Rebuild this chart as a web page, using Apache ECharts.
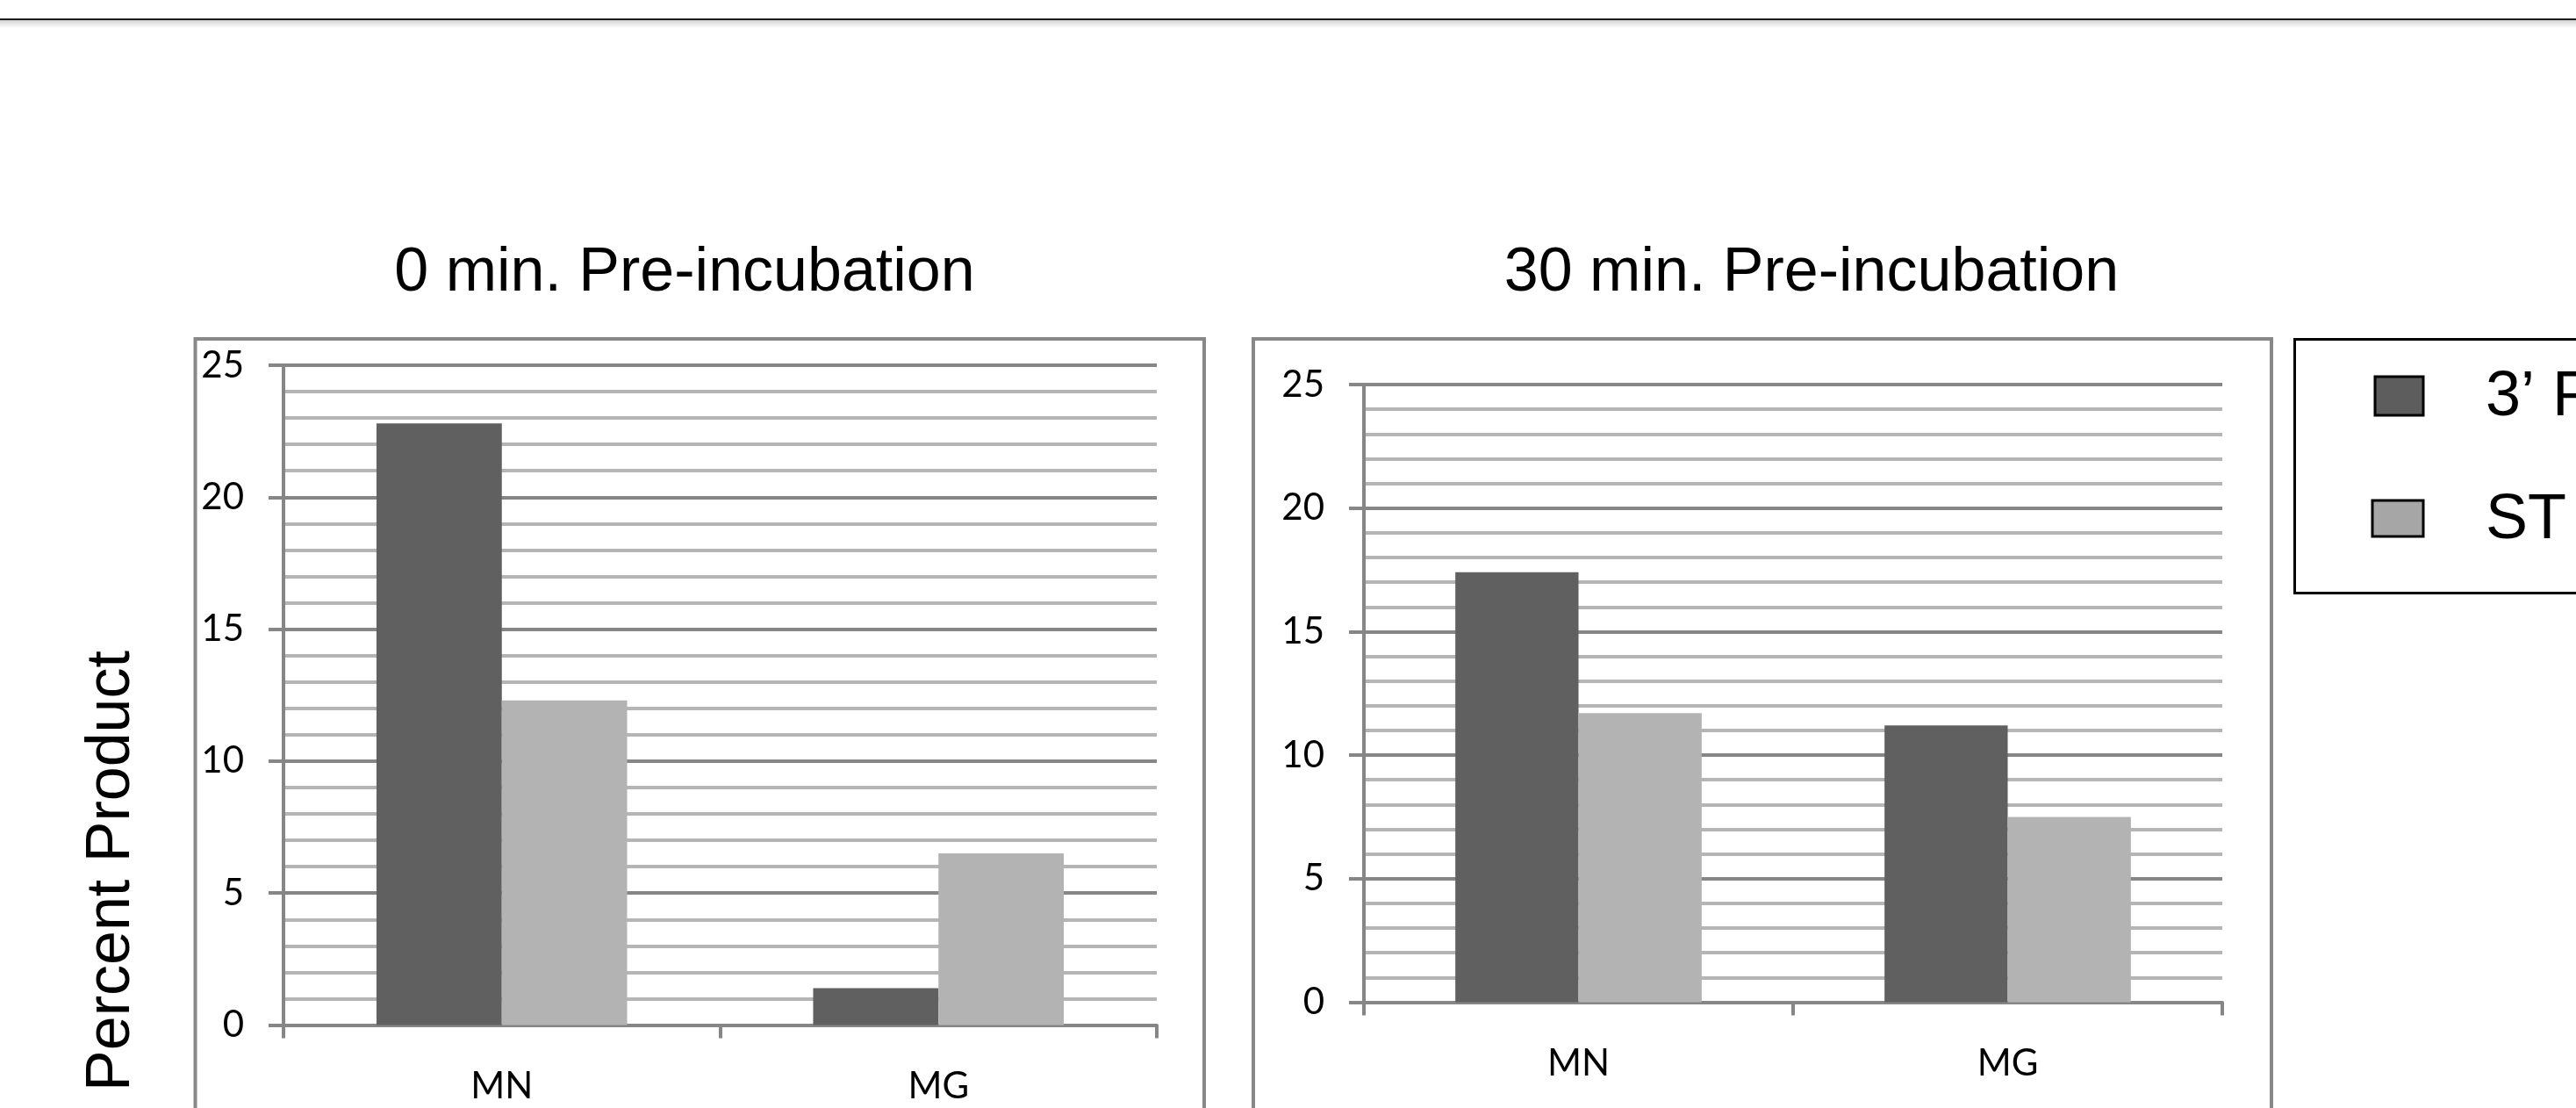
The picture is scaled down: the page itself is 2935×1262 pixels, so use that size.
<!DOCTYPE html>
<html>
<head>
<meta charset="utf-8">
<title>Percent Product by pre-incubation time</title>
<script src="https://cdn.jsdelivr.net/npm/echarts@6/dist/echarts.min.js"></script>
<style>
  html, body { margin: 0; padding: 0; background: #ffffff; }
  #chart { width: 2935px; height: 1262px; }
</style>
</head>
<body>
<div id="chart"></div>
<script>
// Data
const categories = ['MN', 'MG'];
const seriesNames = ['3’ P', 'ST'];
const panelTitles = ['0 min. Pre-incubation', '30 min. Pre-incubation'];
const yAxisTitle = 'Percent Product';
const pre0ThreeP = [22.8, 1.4];
const pre0ST = [12.3, 6.5];
const pre30ThreeP = [17.4, 11.2];
const pre30ST = [11.7, 7.5];
const yMin = 0;
const yMax = 25;
const yStep = 5;

// Styling
const darkBar = '#606060';
const lightBar = '#b3b3b3';
const majorLine = '#868686';
const minorLine = '#b5b5b5';
const labelFont = 'Lato';
const titleFont = '"Liberation Sans", Arial, sans-serif';

const chart = echarts.init(document.getElementById('chart'), null, { renderer: 'canvas' });

const grids = [
  { left: 323, top: 416, width: 995, height: 751.5 },
  { left: 1554, top: 438, width: 978, height: 703.5 }
];

function makeXAxis(idx) {
  return {
    type: 'category',
    gridIndex: idx,
    data: categories,
    boundaryGap: true,
    axisLine: { show: true, lineStyle: { color: majorLine, width: 4 } },
    axisTick: { show: true, length: 15, lineStyle: { color: majorLine, width: 4 } },
    axisLabel: { margin: 49, color: '#000', fontFamily: labelFont, fontSize: 42 },
    splitLine: { show: false }
  };
}

function makeYAxis(idx) {
  return {
    type: 'value',
    gridIndex: idx,
    min: yMin,
    max: yMax,
    interval: yStep,
    axisLine: { show: true, lineStyle: { color: majorLine, width: 4 } },
    axisTick: { show: true, length: 17, lineStyle: { color: majorLine, width: 4 } },
    axisLabel: { margin: 45, color: '#000', fontFamily: labelFont, fontSize: 42 },
    splitLine: { show: true, lineStyle: { color: majorLine, width: 4 } },
    minorTick: { show: false, splitNumber: 5 },
    minorSplitLine: { show: true, lineStyle: { color: minorLine, width: 4 } }
  };
}

function makeBar(name, data, idx, color) {
  return {
    name: name,
    type: 'bar',
    xAxisIndex: idx,
    yAxisIndex: idx,
    data: data,
    barWidth: '28.7%',
    barGap: '0%',
    itemStyle: { color: color },
    z: 3
  };
}

const legendSwatches = [
  { x: 2706, y: 429, w: 55, h: 44, color: '#5d5d5d', textY: 453 },
  { x: 2703, y: 570, w: 58, h: 41, color: '#a6a6a6', textY: 593 }
];

const graphics = [
  // window edge with soft shadow along the top
  { type: 'rect', shape: { x: 0, y: 21, width: 2935, height: 2 }, style: { fill: '#1c1c1c' }, silent: true },
  {
    type: 'rect', shape: { x: 0, y: 23, width: 2935, height: 9 }, silent: true,
    style: {
      fill: new echarts.graphic.LinearGradient(0, 0, 0, 1, [
        { offset: 0, color: '#d4d4d4' },
        { offset: 1, color: '#ffffff' }
      ])
    }
  },
  // panel frames
  { type: 'rect', shape: { x: 222.5, y: 386, width: 1149.5, height: 1000 }, style: { fill: 'none', stroke: '#888888', lineWidth: 4 }, silent: true },
  { type: 'rect', shape: { x: 1428, y: 386, width: 1160, height: 1000 }, style: { fill: 'none', stroke: '#888888', lineWidth: 4 }, silent: true },
  // legend frame
  { type: 'rect', shape: { x: 2614.5, y: 386.5, width: 600, height: 289 }, style: { fill: '#ffffff', stroke: '#000000', lineWidth: 3 }, silent: true },
  // y-axis title
  {
    type: 'text', x: 128, y: 992, rotation: Math.PI / 2, silent: true,
    style: { text: yAxisTitle, fill: '#000', font: '70px ' + titleFont, align: 'center', verticalAlign: 'middle' }
  }
];

legendSwatches.forEach(function (s, i) {
  graphics.push({
    type: 'rect', silent: true,
    shape: { x: s.x, y: s.y, width: s.w, height: s.h },
    style: { fill: s.color, stroke: '#000000', lineWidth: 3 }
  });
  graphics.push({
    type: 'text', x: 2832, y: s.textY, silent: true,
    style: { text: seriesNames[i], fill: '#000', font: '72px ' + titleFont, align: 'left', verticalAlign: 'middle' }
  });
});

const option = {
  backgroundColor: '#ffffff',
  animation: false,
  title: [
    { text: panelTitles[0], left: 780, top: 277, textAlign: 'center', padding: 0,
      textStyle: { fontFamily: titleFont, fontSize: 70, fontWeight: 'normal', color: '#000' } },
    { text: panelTitles[1], left: 2064, top: 277, textAlign: 'center', padding: 0,
      textStyle: { fontFamily: titleFont, fontSize: 70, fontWeight: 'normal', color: '#000' } }
  ],
  grid: grids,
  xAxis: [makeXAxis(0), makeXAxis(1)],
  yAxis: [makeYAxis(0), makeYAxis(1)],
  series: [
    makeBar(seriesNames[0], pre0ThreeP, 0, darkBar),
    makeBar(seriesNames[1], pre0ST, 0, lightBar),
    makeBar(seriesNames[0], pre30ThreeP, 1, darkBar),
    makeBar(seriesNames[1], pre30ST, 1, lightBar)
  ],
  graphic: graphics
};

chart.setOption(option);
</script>
</body>
</html>
